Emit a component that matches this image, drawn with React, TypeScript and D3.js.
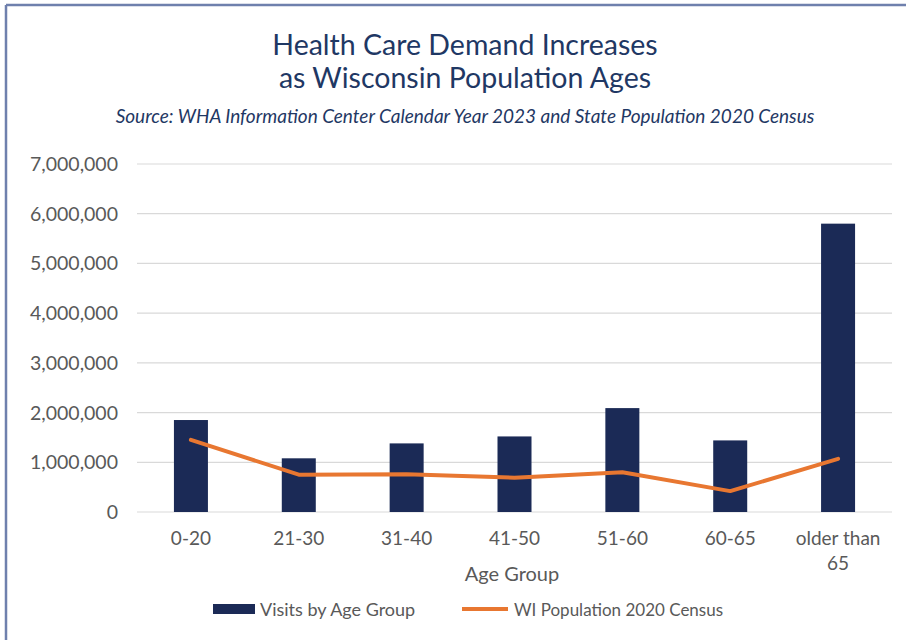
import React from "react";
import * as d3 from "d3";

const categories = ["0-20", "21-30", "31-40", "41-50", "51-60", "60-65", "older than 65"];
const visits = [1850000, 1080000, 1380000, 1520000, 2090000, 1440000, 5800000];
const population = [1450000, 750000, 760000, 690000, 800000, 420000, 1070000];
const yTicks = [0, 1000000, 2000000, 3000000, 4000000, 5000000, 6000000, 7000000];

const W = 906, H = 640;
const FONT = "Lato, 'Open Sans', sans-serif";

export default function App() {
  const x = d3.scaleBand<string>().domain(categories).range([137, 892]).paddingInner(0).paddingOuter(0);
  const y = d3.scaleLinear().domain([0, 7000000]).range([512, 164]);
  const barW = 34;
  const fmt = d3.format(",");
  const line = d3.line<number>()
    .x((_, i) => x(categories[i])! + x.bandwidth() / 2)
    .y((d) => y(d));

  return (
    <svg width={W} height={H} style={{ position: "absolute", left: 0, top: 0, fontFamily: FONT }}>
      <rect x={0} y={0} width={W} height={H} fill="#fff" />
      <line x1={6} y1={5} x2={W} y2={5} stroke="#6f80ad" strokeWidth={2.5} />
      <line x1={6} y1={5} x2={6} y2={H} stroke="#6f80ad" strokeWidth={2.5} />
      <text x={465} y={55} textAnchor="middle" fontSize={28.5} fill="#1f3864">Health Care Demand Increases</text>
      <text x={465} y={88} textAnchor="middle" fontSize={28.5} fill="#1f3864">as Wisconsin Population Ages</text>
      <text x={465} y={123} textAnchor="middle" fontSize={19} fontStyle="italic" fill="#1f3864">
        Source: WHA Information Center Calendar Year 2023 and State Population 2020 Census
      </text>
      {yTicks.map((t) => (
        <g key={t}>
          <line x1={137} x2={892} y1={y(t)} y2={y(t)} stroke="#d9d9d9" strokeWidth={1.2} />
          <text x={118} y={y(t) + 7} textAnchor="end" fontSize={19.5} fill="#595959">{fmt(t)}</text>
        </g>
      ))}
      {categories.map((c, i) => (
        <rect key={c} x={x(c)! + x.bandwidth() / 2 - barW / 2} y={y(visits[i])} width={barW} height={y(0) - y(visits[i])} fill="#1b2a56" />
      ))}
      <path d={line(population) || ""} fill="none" stroke="#e87731" strokeWidth={4} strokeLinejoin="round" strokeLinecap="round" />
      {categories.map((c) => {
        const cx = x(c)! + x.bandwidth() / 2;
        const parts = c === "older than 65" ? ["older than", "65"] : [c];
        return (
          <text key={c} x={cx} y={545} textAnchor="middle" fontSize={19} fill="#595959">
            {parts.map((p, j) => (
              <tspan key={j} x={cx} dy={j === 0 ? 0 : 25}>{p}</tspan>
            ))}
          </text>
        );
      })}
      <text x={512} y={581} textAnchor="middle" fontSize={20} fill="#595959">Age Group</text>
      <rect x={213} y={604} width={42} height={10} fill="#1b2a56" />
      <text x={260} y={616} fontSize={18} fill="#595959">Visits by Age Group</text>
      <line x1={462} x2={508} y1={609} y2={609} stroke="#e87731" strokeWidth={4} />
      <text x={514} y={616} fontSize={17} fill="#595959">WI Population 2020 Census</text>
    </svg>
  );
}
